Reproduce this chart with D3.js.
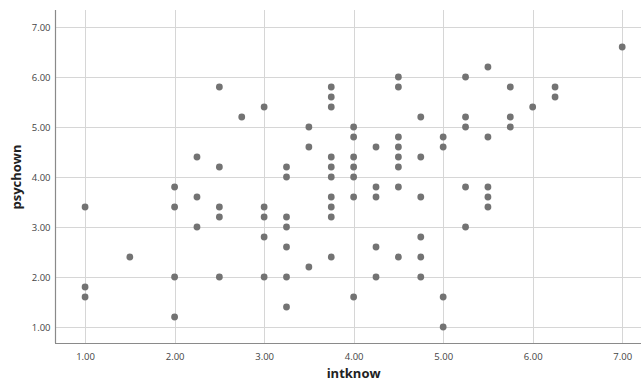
<!DOCTYPE html>
<html><head><meta charset="utf-8">
<script src="https://cdn.jsdelivr.net/npm/d3@7"></script>
<style>
html,body{margin:0;padding:0;background:#fff;}
svg{display:block;}
</style></head>
<body>
<svg id="chart" width="642" height="385"></svg>
<script>
// Data: intknow (x) and psychown (y)
const intknow = [
  1.00,1.00,1.00,
  1.50,
  2.00,2.00,2.00,2.00,
  2.25,2.25,2.25,
  2.50,2.50,2.50,2.50,2.50,
  2.75,
  3.00,3.00,3.00,3.00,3.00,
  3.25,3.25,3.25,3.25,3.25,3.25,3.25,
  3.50,3.50,3.50,
  3.75,3.75,3.75,3.75,3.75,3.75,3.75,3.75,3.75,3.75,
  4.00,4.00,4.00,4.00,4.00,4.00,4.00,
  4.25,4.25,4.25,4.25,4.25,
  4.50,4.50,4.50,4.50,4.50,4.50,4.50,4.50,
  4.75,4.75,4.75,4.75,4.75,4.75,
  5.00,5.00,5.00,5.00,
  5.25,5.25,5.25,5.25,5.25,
  5.50,5.50,5.50,5.50,5.50,
  5.75,5.75,5.75,
  6.00,
  6.25,6.25,
  7.00
];
const psychown = [
  3.4,1.8,1.6,
  2.4,
  3.8,3.4,2.0,1.2,
  4.4,3.6,3.0,
  5.8,4.2,3.4,3.2,2.0,
  5.2,
  5.4,3.4,3.2,2.8,2.0,
  4.2,4.0,3.2,3.0,2.6,2.0,1.4,
  5.0,4.6,2.2,
  5.8,5.6,5.4,4.4,4.2,4.0,3.6,3.4,3.2,2.4,
  5.0,4.8,4.4,4.2,4.0,3.6,1.6,
  4.6,3.8,3.6,2.6,2.0,
  6.0,5.8,4.8,4.6,4.4,4.2,3.8,2.4,
  5.2,4.4,3.6,2.8,2.4,2.0,
  4.8,4.6,1.6,1.0,
  6.0,5.2,5.0,3.8,3.0,
  6.2,4.8,3.8,3.6,3.4,
  5.8,5.2,5.0,
  5.4,
  5.8,5.6,
  6.6
];
const xTicks = [1,2,3,4,5,6,7];
const yTicks = [1,2,3,4,5,6,7];
const xTitle = "intknow";
const yTitle = "psychown";

const svg = d3.select("#chart");
const mLeft = 55, mRight = 641, mTop = 10, mBottom = 343;

const x = d3.scaleLinear().domain([0.664, 7.21]).range([mLeft, mRight]);
const y = d3.scaleLinear().domain([0.68, 7.34]).range([mBottom, mTop]);

// grid
svg.append("g").selectAll("line").data(yTicks).join("line")
  .attr("x1", mLeft).attr("x2", mRight)
  .attr("y1", d => Math.round(y(d)) + 0.5).attr("y2", d => Math.round(y(d)) + 0.5)
  .attr("stroke", "#d6d6d6").attr("stroke-width", 1);
svg.append("g").selectAll("line").data(xTicks).join("line")
  .attr("y1", mTop).attr("y2", mBottom)
  .attr("x1", d => Math.round(x(d)) + 0.5).attr("x2", d => Math.round(x(d)) + 0.5)
  .attr("stroke", "#d6d6d6").attr("stroke-width", 1);

// axes (no tick marks)
const fmt = d3.format(".2f");
const xAxis = svg.append("g").attr("transform", `translate(0,${mBottom + 0.5})`)
  .call(d3.axisBottom(x).tickValues(xTicks).tickFormat(fmt).tickSize(0).tickPadding(10));
const yAxis = svg.append("g").attr("transform", `translate(${mLeft + 0.5},0)`)
  .call(d3.axisLeft(y).tickValues(yTicks).tickFormat(fmt).tickSize(0).tickPadding(5));
[xAxis, yAxis].forEach(a => {
  a.select(".domain").attr("stroke", "#8a8a8a").attr("stroke-width", 1.2);
  a.selectAll("text").attr("fill", "#444").attr("font-family", "'Open Sans', sans-serif").attr("font-size", 9.5);
});
xAxis.select(".domain").attr("d", `M${mLeft},0H${mRight}`);
yAxis.select(".domain").attr("d", `M0,${mTop}V${mBottom}`);

// points
svg.append("g").selectAll("circle").data(intknow.map((v, i) => [v, psychown[i]])).join("circle")
  .attr("cx", d => x(d[0])).attr("cy", d => y(d[1]))
  .attr("r", 3.4).attr("fill", "#737373");

// titles
svg.append("text").attr("x", x(4)).attr("y", 378)
  .attr("text-anchor", "middle").attr("font-family", "'Open Sans', sans-serif")
  .attr("font-weight", "bold").attr("font-size", 13).attr("fill", "#222").text(xTitle);
svg.append("text").attr("transform", `translate(21,${y(4)}) rotate(-90)`)
  .attr("text-anchor", "middle").attr("font-family", "'Open Sans', sans-serif")
  .attr("font-weight", "bold").attr("font-size", 13).attr("fill", "#222").text(yTitle);
</script>
</body></html>
